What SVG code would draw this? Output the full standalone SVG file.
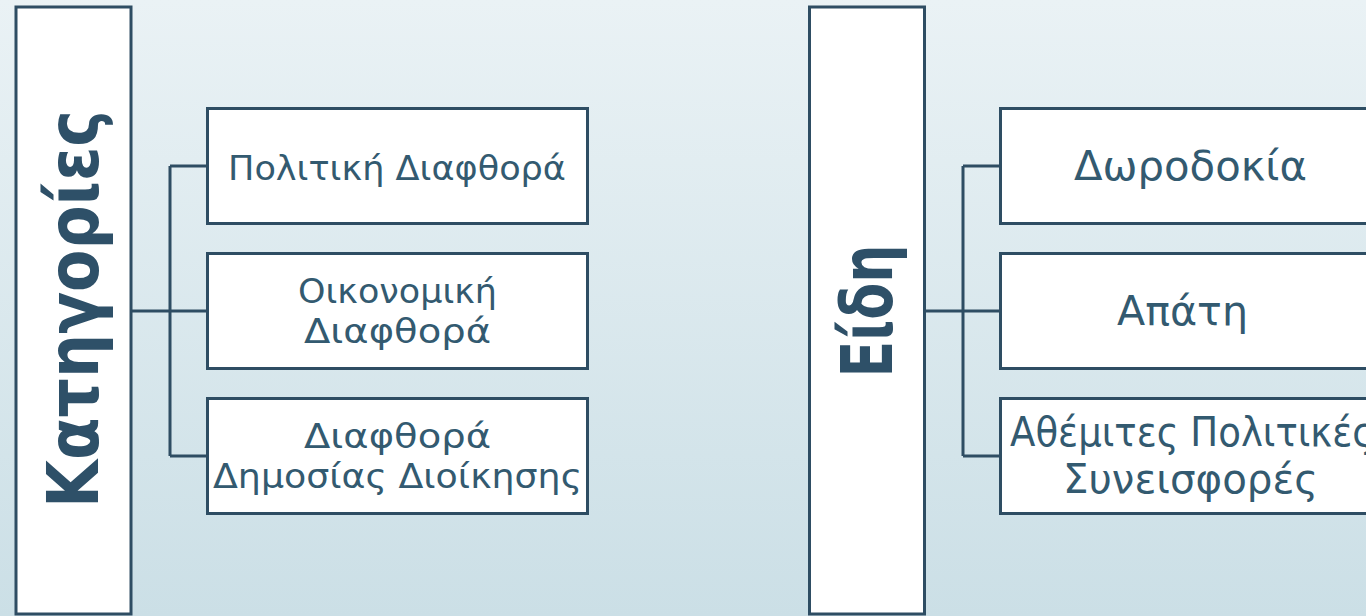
<svg xmlns="http://www.w3.org/2000/svg" width="1366" height="616" viewBox="0 0 1366 616">
<defs>
<linearGradient id="bg" x1="0" y1="0" x2="0" y2="1">
<stop offset="0" stop-color="#eaf2f5"/>
<stop offset="1" stop-color="#cbdfe6"/>
</linearGradient>
<style>
.box{fill:#ffffff;stroke:#2e4d63;stroke-width:3}
.con{fill:none;stroke:#2e4d63;stroke-width:3}
.lbl{font-family:"DejaVu Sans","Noto Sans",sans-serif;fill:#335a70;text-anchor:middle}
.s{font-size:34px}
.m{font-size:40px}
.ttl{font-family:"DejaVu Sans","Noto Sans",sans-serif;font-weight:bold;font-size:72px;fill:#2e5068;text-anchor:middle}
</style>
</defs>
<rect width="1366" height="616" fill="url(#bg)"/>
<g id="connectors">
<path class="con" d="M131,311 H207.5 M170,166 V456 M170,166 H207.5 M170,456 H207.5"/>
<path class="con" d="M925,311 H1000.5 M963,166 V456 M963,166 H1000.5 M963,456 H1000.5"/>
</g>
<g id="n-kategories">
<rect class="box" x="16" y="7" width="115" height="607"/>
<text class="ttl" transform="translate(98,309) rotate(-90)" textLength="398" lengthAdjust="spacingAndGlyphs">Κατηγορίες</text>
</g>
<g id="n-politiki">
<rect class="box" x="207.5" y="108.5" width="380" height="115"/>
<text class="lbl s" x="397" y="180" textLength="338" lengthAdjust="spacingAndGlyphs">Πολιτική Διαφθορά</text>
</g>
<g id="n-oikonomiki">
<rect class="box" x="207.5" y="253.5" width="380" height="115"/>
<text class="lbl s" x="397.5" y="303" textLength="199" lengthAdjust="spacingAndGlyphs">Οικονομική</text>
<text class="lbl s" x="397.5" y="343" textLength="187" lengthAdjust="spacingAndGlyphs">Διαφθορά</text>
</g>
<g id="n-dimosias">
<rect class="box" x="207.5" y="398.5" width="380" height="115"/>
<text class="lbl s" x="397.5" y="448" textLength="187" lengthAdjust="spacingAndGlyphs">Διαφθορά</text>
<text class="lbl s" x="397.5" y="488" textLength="369" lengthAdjust="spacingAndGlyphs">Δημοσίας Διοίκησης</text>
</g>
<g id="n-eidi">
<rect class="box" x="809.5" y="7" width="115" height="607"/>
<text class="ttl" transform="translate(892,311) rotate(-90)" textLength="133" lengthAdjust="spacingAndGlyphs">Είδη</text>
</g>
<g id="n-dorodokia">
<rect class="box" x="1000.5" y="108.5" width="380" height="115"/>
<text class="lbl m" x="1190.5" y="180" textLength="233" lengthAdjust="spacingAndGlyphs">Δωροδοκία</text>
</g>
<g id="n-apati">
<rect class="box" x="1000.5" y="253.5" width="380" height="115"/>
<text class="lbl m" x="1182.5" y="325" textLength="131" lengthAdjust="spacingAndGlyphs">Απάτη</text>
</g>
<g id="n-athemites">
<rect class="box" x="1000.5" y="398.5" width="380" height="115"/>
<text class="lbl m" x="1010" y="446" style="text-anchor:start" textLength="364" lengthAdjust="spacingAndGlyphs">Αθέμιτες Πολιτικές</text>
<text class="lbl m" x="1190.5" y="493" textLength="255" lengthAdjust="spacingAndGlyphs">Συνεισφορές</text>
</g>
</svg>
